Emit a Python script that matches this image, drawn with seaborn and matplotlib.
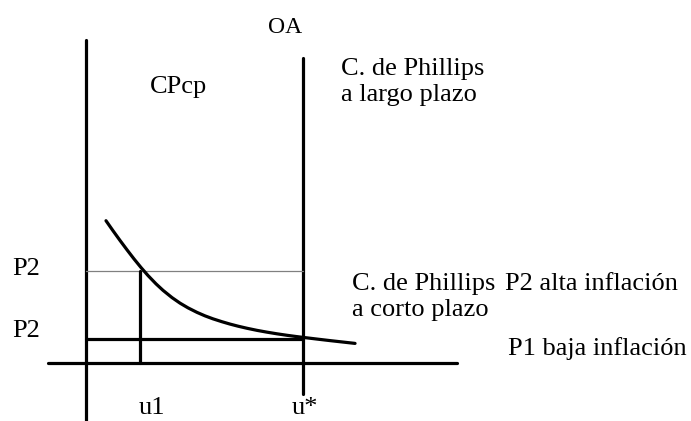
import numpy as np
import pandas as pd
import matplotlib
matplotlib.use("Agg")
import matplotlib.pyplot as plt
import seaborn as sns

# ==================================
# DATA (schematic units: x = desempleo, y = inflacion)
# ==================================

U1 = 2.0        # desempleo u1
U_STAR = 8.0    # tasa natural u*
P1 = 1.0        # baja inflacion
P2 = 3.9        # alta inflacion

# short-run Phillips curve
curve_u = [0.737, 0.995, 1.253, 1.512, 1.770, 2.028, 2.286, 2.581, 2.839, 3.171,
           3.465, 3.760, 4.092, 4.387, 4.682, 5.014, 5.309, 5.604, 5.935, 6.304,
           6.673, 7.041, 7.410, 7.705, 8.000, 8.516, 8.995, 9.475, 9.917]
curve_pi = [6.055, 5.629, 5.216, 4.815, 4.428, 4.062, 3.721, 3.367, 3.091, 2.782,
            2.547, 2.346, 2.153, 2.005, 1.878, 1.755, 1.655, 1.566, 1.477, 1.388,
            1.311, 1.241, 1.178, 1.132, 1.089, 1.017, 0.952, 0.890, 0.833]

y_labels = ["P2", "P2"]
x_labels = ["u1", "u*"]

# ==================================
# FIGURE
# ==================================

sns.set_theme(style="white")
plt.rcParams["font.family"] = ["Liberation Serif", "DejaVu Serif"]
plt.rcParams["text.color"] = "black"

fig = plt.figure(figsize=(6.91, 4.21), dpi=100)
ax = fig.add_axes([0, 0, 1, 1])
ax.set_xlim(-3.17, 22.30)
ax.set_ylim(-2.47, 15.45)
ax.axis("off")

lw = 2.3

# axes of the diagram
ax.plot([0, 0], [-2.6, 13.74], color="black", lw=lw)
ax.plot([-1.40, 13.68], [0, 0], color="black", lw=lw)

# long-run Phillips curve (OA)
ax.plot([U_STAR, U_STAR], [-1.32, 12.98], color="black", lw=lw)

# inflation levels
ax.plot([0, U_STAR], [P2, P2], color="#808080", lw=0.9)
ax.plot([0, U_STAR], [P1, P1], color="black", lw=lw)
ax.plot([U1, U1], [0, P2], color="black", lw=lw)

# short-run Phillips curve
df = pd.DataFrame({"u": curve_u, "pi": curve_pi})
sns.lineplot(data=df, x="u", y="pi", color="black", lw=lw, sort=False, ax=ax)

# ==================================
# LABELS
# ==================================

fs = 19
ax.text(7.34, 14.04, "OA", fontsize=17, ha="center", va="baseline")
ax.text(9.40, 12.26, "C. de Phillips", fontsize=fs, va="baseline")
ax.text(9.40, 11.15, "a largo plazo", fontsize=fs, va="baseline")
ax.text(2.36, 11.49, "CPcp", fontsize=fs, va="baseline")

ax.text(-2.73, 3.74, y_labels[0], fontsize=fs, va="baseline")
ax.text(-2.73, 1.11, y_labels[1], fontsize=fs, va="baseline")

ax.text(9.81, 3.11, "C. de Phillips", fontsize=fs, va="baseline")
ax.text(9.81, 2.00, "a corto plazo", fontsize=fs, va="baseline")
ax.text(15.45, 3.11, "P2 alta inflación", fontsize=fs, va="baseline")
ax.text(15.56, 0.34, "P1 baja inflación", fontsize=fs, va="baseline")

ax.text(1.95, -2.17, x_labels[0], fontsize=fs, va="baseline")
ax.text(7.59, -2.17, x_labels[1], fontsize=fs, va="baseline")

fig.savefig("out.png", dpi=100, facecolor="white")
